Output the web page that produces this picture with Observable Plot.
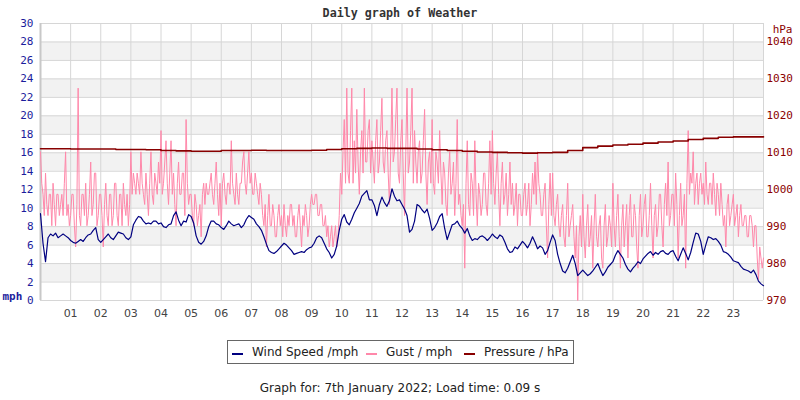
<!DOCTYPE html>
<html><head><meta charset="utf-8">
<script src="https://cdn.jsdelivr.net/npm/d3@7"></script>
<script src="https://cdn.jsdelivr.net/npm/@observablehq/plot@0.6"></script>
<style>
body{margin:0;background:#fff;}
#wrap{position:relative;width:800px;height:400px;overflow:hidden;font-family:"DejaVu Sans",sans-serif;}
#title{position:absolute;top:6px;left:0;width:800px;text-align:center;font:bold 11.7px "DejaVu Sans Mono",monospace;color:#333;}
#chart{position:absolute;top:0;left:0;}
#legend{position:absolute;left:227px;top:340px;width:345px;height:22px;border:1px solid #666;font-size:12px;color:#222;}
#legend .sw{position:absolute;top:12px;width:11px;height:2px;}
#legend .lb{position:absolute;top:4px;white-space:nowrap;}
#caption{position:absolute;top:381px;left:0;width:800px;text-align:center;font-size:12px;color:#222;}
</style></head>
<body>
<div id="wrap">
  <div id="chart"></div>
  <div id="title">Daily graph of Weather</div>
  <div id="legend"></div>
  <div id="caption">Graph for: 7th January 2022; Load time: 0.09 s</div>
</div>
<script>
// ---- data ----
const seriesNames = ["Wind Speed /mph", "Gust / mph", "Pressure / hPa"];
const seriesColors = ["#000080", "#ff88aa", "#880000"];

// wind speed (mph), every 5 minutes from 00:00 to 24:00 (12 readings per hour)
const windSpeed = [
  9.4,6.2,4.2,6.8,7.2,7.0,7.3,6.8,7.0,7.2,7.0,6.8,
  6.5,6.3,6.2,6.4,6.6,6.4,6.8,7.1,7.2,7.6,7.9,6.6,
  6.3,6.6,6.9,7.2,6.8,6.6,7.0,7.4,7.3,7.2,6.8,6.6,
  6.9,8.2,8.7,9.1,9.0,8.6,8.3,8.4,8.3,8.6,8.6,8.3,
  8.4,8.0,7.9,8.2,8.3,9.2,9.6,8.7,8.1,8.6,8.5,9.3,
  9.1,8.4,7.0,6.3,6.1,6.4,7.0,8.0,8.6,8.6,8.3,8.2,
  7.9,7.7,8.1,8.6,8.3,8.1,8.2,8.3,7.9,8.2,8.8,9.2,
  9.0,8.8,8.3,8.0,7.6,6.9,6.1,5.4,5.2,5.1,5.3,5.6,
  5.9,6.2,6.0,5.7,5.4,5.0,5.1,5.2,5.3,5.2,5.5,5.7,
  5.8,6.2,6.8,7.0,6.8,6.2,5.6,5.2,4.6,5.0,5.9,7.6,
  8.8,9.3,8.5,8.2,8.8,9.5,10.0,10.5,11.3,11.6,11.9,10.9,
  10.9,10.3,9.2,10.4,11.2,10.6,10.2,10.8,12.1,11.3,10.8,10.9,
  10.4,9.9,9.2,7.4,7.7,8.6,10.4,10.2,9.8,9.5,9.9,8.9,
  7.6,7.9,8.4,9.1,9.4,7.8,6.6,7.4,8.2,8.3,8.6,8.1,
  7.8,7.3,7.8,7.0,6.5,6.7,6.6,6.9,7.0,6.8,6.5,6.8,
  7.2,6.9,6.7,7.1,6.9,6.3,5.6,5.2,5.3,5.8,5.6,6.0,
  6.4,6.1,5.7,6.2,6.9,6.3,5.6,5.9,5.7,5.0,5.4,6.3,
  7.1,6.5,5.0,4.0,3.2,3.0,3.5,4.2,4.9,4.0,2.7,3.0,
  3.3,3.0,2.7,2.9,3.2,3.6,4.0,3.3,2.7,3.1,3.6,3.9,
  4.2,4.9,5.4,5.0,4.6,3.9,3.4,3.1,3.5,3.8,4.2,4.0,
  4.5,4.8,5.1,5.3,4.9,5.2,5.0,5.3,5.4,5.1,5.0,5.3,
  5.4,4.8,4.3,5.0,5.7,5.1,4.4,5.2,6.3,7.3,7.2,6.4,
  5.0,6.0,6.9,6.8,6.6,6.7,6.4,6.0,5.3,5.2,5.0,4.7,
  4.3,4.2,4.1,3.7,3.4,3.3,3.2,3.0,3.3,2.8,2.1,1.8,
  1.6
];

// gust (mph), every 2.5 minutes from 00:00 to 24:00 (24 readings per hour)
const gust = [
  16.1,12.7,11.5,9.2,13.8,10.4,9.2,11.5,11.5,8.1,12.7,10.4,8.1,11.5,11.5,9.2,10.4,11.5,9.2,12.7,16.1,9.2,10.4,8.1,
  9.2,11.5,11.5,8.1,5.8,10.4,23.0,9.2,8.1,11.5,11.5,9.2,12.7,8.1,9.2,11.5,15.0,9.2,10.4,13.8,13.8,8.1,9.2,11.5,
  11.5,9.2,5.8,10.4,12.7,9.2,8.1,11.5,11.5,8.1,9.2,12.7,12.7,9.2,8.1,11.5,11.5,8.1,12.7,10.4,9.2,11.5,8.1,10.4,
  16.1,11.5,13.8,12.7,11.5,13.8,12.7,11.5,16.1,12.7,11.5,10.4,13.8,11.5,9.2,12.7,16.1,11.5,10.4,13.8,12.7,11.5,15.0,12.7,
  18.4,11.5,12.7,15.0,17.3,12.7,10.4,13.8,17.3,11.5,13.8,10.4,8.1,12.7,15.0,11.5,11.5,13.8,13.8,9.2,19.6,12.7,10.4,11.5,
  11.5,9.2,8.1,11.5,10.4,8.1,9.2,10.4,6.9,11.5,12.7,10.4,12.7,11.5,11.5,12.7,13.8,11.5,10.4,12.7,15.0,11.5,9.2,12.7,
  8.1,12.7,13.8,11.5,10.4,12.7,12.7,11.5,17.3,12.7,11.5,10.4,13.8,11.5,10.4,12.7,12.7,15.0,16.1,12.7,11.5,13.8,16.1,12.7,
  13.8,11.5,11.5,13.8,12.7,11.5,10.4,12.7,11.5,9.2,8.1,10.4,5.8,9.2,11.5,8.1,8.1,10.4,9.2,6.9,6.9,9.2,10.4,8.1,
  9.2,6.9,10.4,8.1,6.9,9.2,8.1,10.4,10.4,8.1,9.2,6.9,6.9,9.2,10.4,8.1,5.8,9.2,8.1,10.4,9.2,6.9,8.1,10.4,
  11.5,10.4,10.4,11.5,11.5,9.2,9.2,10.4,10.4,8.1,8.1,9.2,6.9,8.1,5.8,6.9,8.1,5.8,6.9,8.1,5.8,6.9,9.2,13.8,
  11.5,16.1,19.6,12.7,23.0,13.8,12.7,18.4,23.0,12.7,17.3,13.8,20.7,15.0,11.5,16.1,18.4,13.8,23.0,15.0,15.0,18.4,19.6,13.8,
  17.3,15.0,12.7,17.3,19.6,13.8,15.0,18.4,21.9,15.0,13.8,17.3,18.4,13.8,10.4,16.1,23.0,15.0,16.1,19.6,23.0,13.8,12.7,17.3,
  19.6,13.8,9.2,16.1,23.0,13.8,15.0,18.4,23.0,12.7,18.4,15.0,12.7,16.1,17.3,12.7,13.8,17.3,20.7,13.8,10.4,15.0,16.1,12.7,
  19.6,12.7,11.5,16.1,15.0,12.7,18.4,13.8,10.4,15.0,13.8,10.4,9.2,13.8,16.1,11.5,12.7,15.0,9.2,12.7,19.6,10.4,11.5,9.2,
  8.1,10.4,3.5,12.7,17.3,10.4,9.2,13.8,12.7,9.2,17.3,11.5,8.1,12.7,11.5,9.2,10.4,13.8,13.8,10.4,9.2,12.7,17.3,11.5,
  18.4,12.7,10.4,13.8,16.1,11.5,8.1,12.7,15.0,10.4,11.5,13.8,9.2,11.5,15.0,10.4,12.7,9.2,10.4,12.7,8.1,11.5,11.5,9.2,
  9.2,11.5,12.7,9.2,10.4,12.7,8.1,10.4,13.8,11.5,15.0,10.4,16.1,12.7,11.5,9.2,9.2,11.5,12.7,8.1,4.6,10.4,13.8,9.2,
  13.8,9.2,8.1,10.4,11.5,8.1,6.9,9.2,10.4,6.9,5.8,9.2,12.7,6.9,8.1,9.2,10.4,6.9,4.6,8.1,0.0,6.9,9.2,5.8,
  11.5,6.9,4.6,8.1,10.4,5.8,6.9,9.2,3.5,8.1,11.5,6.9,5.8,8.1,9.2,4.6,3.5,8.1,10.4,5.8,6.9,9.2,8.1,5.8,
  12.7,8.1,5.8,9.2,11.5,6.9,3.5,8.1,10.4,5.8,8.1,10.4,4.6,9.2,11.5,6.9,6.9,10.4,9.2,5.8,3.5,9.2,11.5,6.9,
  8.1,10.4,11.5,6.9,6.9,9.2,12.7,8.1,4.6,9.2,10.4,6.9,8.1,11.5,11.5,8.1,5.8,10.4,12.7,9.2,15.0,8.1,9.2,11.5,
  11.5,8.1,13.8,10.4,4.6,9.2,12.7,8.1,9.2,11.5,3.5,12.7,18.4,11.5,13.8,12.7,16.1,10.4,12.7,13.8,10.4,12.7,13.8,11.5,
  12.7,10.4,15.0,11.5,10.4,12.7,12.7,10.4,13.8,11.5,9.2,12.7,11.5,9.2,12.7,10.4,8.1,9.2,5.8,10.4,11.5,8.1,9.2,10.4,
  11.5,8.1,9.2,10.4,6.9,9.2,10.4,8.1,8.1,9.2,9.2,6.9,6.9,9.2,9.2,8.1,5.8,8.1,8.1,4.6,2.3,5.8,4.6,3.5,
  4.6
];

// pressure (hPa), every 30 minutes from 00:00 to 24:00
const pressure = [
  1011.1, 1011.1, 1011.0, 1011.0, 1011.0, 1010.9, 1010.9, 1010.8,
  1010.6, 1010.5, 1010.4, 1010.4, 1010.6, 1010.6, 1010.7, 1010.6,
  1010.6, 1010.6, 1010.7, 1010.9, 1011.1, 1011.2, 1011.3, 1011.2,
  1011.2, 1011.0, 1010.8, 1010.6, 1010.4, 1010.2, 1010.1, 1010.0,
  1009.9, 1010.0, 1010.1, 1010.6, 1011.4, 1011.8, 1012.1, 1012.3,
  1012.6, 1012.9, 1013.2, 1013.6, 1013.9, 1014.2, 1014.3, 1014.3,
  1014.3
];

const hourTicks = d3.range(1, 24);
const mphTicks = d3.range(0, 31, 2);
const hpaTicks = [970, 980, 990, 1000, 1010, 1020, 1030, 1040];

// ---- build tables ----
const windData = windSpeed.map((v, i) => ({t: i / 12, v}));
const gustData = gust.map((v, i) => ({t: i / 24, v}));
// pressure drawn on the mph scale: 970 hPa at 0 mph, 10 hPa per 4 mph
const toMph = p => (p - 970) * 0.4;
const presData = pressure.map((v, i) => ({t: i / 2, v: toMph(v)}));
const bandStarts = mphTicks.filter(d => d < 30 && (d / 2) % 2 === 1);

const navy = "#1c1c9c";
const grid = "#d6d6d6";

const chart = Plot.plot({
  width: 800, height: 330,
  marginTop: 23, marginBottom: 30, marginLeft: 40, marginRight: 37,
  x: {domain: [0, 24]},
  y: {domain: [0, 30]},
  style: {fontFamily: "DejaVu Sans Mono", fontSize: "11px", background: "transparent", overflow: "visible"},
  marks: [
    Plot.rect(bandStarts, {y1: d => d, y2: d => d + 2, fill: "#f2f2f2"}),
    Plot.ruleY(mphTicks, {stroke: grid}),
    Plot.ruleX(d3.range(0, 25), {stroke: grid}),
    Plot.ruleX([0], {stroke: "#c8c8c8", strokeWidth: 2}),
    Plot.lineY(gustData, {x: "t", y: "v", stroke: seriesColors[1], strokeWidth: 1}),
    Plot.lineY(presData, {x: "t", y: "v", stroke: seriesColors[2], strokeWidth: 1.6, curve: "step-after"}),
    Plot.lineY(windData, {x: "t", y: "v", stroke: seriesColors[0], strokeWidth: 1.2}),
    Plot.axisY(mphTicks, {anchor: "left", tickSize: 0, tickPadding: 7, label: null, color: navy, fontFamily: "DejaVu Sans Mono", fontSize: 11}),
    Plot.axisY(hpaTicks.map(toMph), {anchor: "right", tickSize: 0, tickPadding: 3, label: null, color: "#8b0000",
      tickFormat: d => String(Math.round(970 + d * 2.5)), fontFamily: "DejaVu Sans Mono", fontSize: 11}),
    Plot.axisX(hourTicks, {tickSize: 0, tickPadding: 9, label: null, tickFormat: d3.format("02d"), color: "#444",
      fontFamily: "DejaVu Sans", fontSize: 11}),
    Plot.text(["mph"], {frameAnchor: "bottom-left", dx: -38, dy: -4, textAnchor: "start", lineAnchor: "middle", fill: navy,
      fontWeight: "bold", fontFamily: "DejaVu Sans Mono", fontSize: 11}),
    Plot.text(["hPa"], {frameAnchor: "top-right", dx: 29, dy: 6, textAnchor: "end", lineAnchor: "middle", fill: "#8b0000",
      fontFamily: "DejaVu Sans Mono", fontSize: 11})
  ]
});
document.getElementById("chart").appendChild(chart);

// legend
const legend = document.getElementById("legend");
const swX = [4, 138, 236];
const lbX = [24, 158, 256];
seriesNames.forEach((name, i) => {
  const sw = document.createElement("div");
  sw.className = "sw"; sw.style.left = swX[i] + "px"; sw.style.background = seriesColors[i];
  const lb = document.createElement("div");
  lb.className = "lb"; lb.style.left = lbX[i] + "px"; lb.textContent = name;
  legend.appendChild(sw); legend.appendChild(lb);
});
</script>
</body></html>
